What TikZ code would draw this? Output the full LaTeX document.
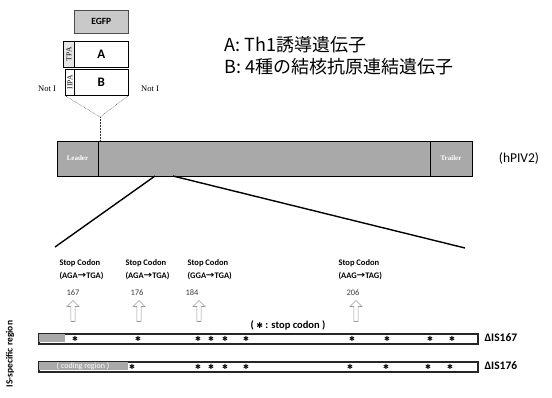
\documentclass[tikz,border=0pt]{standalone}
\usepackage{fontspec}
\setmainfont{Carlito}
\newfontfamily\jp{Noto Sans CJK JP}
\newfontfamily\serifx{Liberation Serif}
\newfontfamily\dejavu{DejaVu Sans}
\usetikzlibrary{shapes.arrows}
\definecolor{bargray}{HTML}{A9A9A9}
\definecolor{lightgray2}{HTML}{C9C9C9}
\definecolor{arrowgray}{HTML}{9A9A9A}
\tikzset{
  box/.style={draw=black, line width=0.6pt, fill=white, anchor=north west, inner sep=0pt},
  smallbox/.style={draw=black, line width=0.6pt, fill=white, anchor=north west, inner sep=0pt},
  codon/.style={font=\bfseries\fontsize{8.5}{13}\selectfont, align=left, anchor=west},
  num/.style={font=\fontsize{8.5}{9}\selectfont, text=black!75},
  uparrow/.style={single arrow, draw=arrowgray, line width=0.6pt, fill=white, shape border rotate=90,
     minimum height=21pt, minimum width=12pt, single arrow head extend=1.5pt, single arrow head indent=0pt, inner sep=0.5pt},
  zoomline/.style={line width=1.4pt, black},
  dotline/.style={densely dotted, line width=0.5pt, black!80},
  star/.style={font=\dejavu\fontsize{7}{7}\selectfont, inner sep=0pt},
  row/.style={draw=black!85, line width=1.6pt},
  dlabel/.style={font=\bfseries\fontsize{11.5}{12}\selectfont, anchor=west},
}
\begin{document}
\begin{tikzpicture}[x=1pt,y=-1pt]
\useasboundingbox (0,0) rectangle (552,397);

% construct boxes
\node[box, fill=lightgray2, draw=black!70, minimum width=54pt, minimum height=23pt, font=\bfseries\fontsize{9.5}{10}\selectfont] (egfp) at (74,10) {EGFP};
\node[box, minimum width=54pt, minimum height=26pt, font=\fontsize{13}{13}\selectfont\bfseries] (a) at (74,41) {A};
\node[smallbox, fill=black!10, minimum width=11pt, minimum height=26pt] (tpa) at (63,41) {};
\node[rotate=90, font=\serifx\fontsize{7.5}{7.5}\selectfont, inner sep=0pt] (tpat) at (tpa.center) {TPA};
\node[box, minimum width=54pt, minimum height=26pt, font=\fontsize{13}{13}\selectfont\bfseries] (b) at (74,69) {B};
\node[smallbox, minimum width=9pt, minimum height=26pt] (iipa) at (65,69) {};
\node[rotate=90, font=\serifx\fontsize{7.5}{7.5}\selectfont, inner sep=0pt] (iipat) at (iipa.center) {IIPA};
\node[font=\serifx\fontsize{8.5}{8.5}\selectfont] (not1) at (47,89) {Not I};
\node[font=\serifx\fontsize{8.5}{8.5}\selectfont] (not2) at (150,89) {Not I};

% legend
\node[anchor=west, font=\jp\fontsize{18}{19}\selectfont] (la) at (221,45) {A: Th1誘導遺伝子};
\node[anchor=west, font=\jp\fontsize{18}{19}\selectfont] (lb) at (221,67) {B: 4種の結核抗原連結遺伝子};

% genome bar
\node[box, fill=bargray, minimum width=415pt, minimum height=35pt] (bar) at (57,141) {};
\coordinate (ldiv) at (98,141);
\coordinate (tdiv) at (430,141);
\draw[line width=0.8pt] (ldiv) -- ++(0,35);
\draw[line width=0.8pt] (tdiv) -- ++(0,35);
\node[text=white, font=\serifx\bfseries\fontsize{7}{7}\selectfont] (leader) at (77.5,158.5) {Leader};
\node[text=white, font=\serifx\bfseries\fontsize{7}{7}\selectfont] (trailer) at (451,158.5) {Trailer};
\node[font=\fontsize{13.5}{14}\selectfont] (hpiv) at (519,158) {(hPIV2)};

% insertion dotted lines
\coordinate (ins) at (100,117);
\coordinate (instop) at (100,141);
\draw[dotline] (iipa.south west) -- (ins) -- (b.south east);
\draw[dotline] (ins) -- (instop);

% zoom lines
\coordinate (z1) at (155,176);
\coordinate (z2) at (173,176);
\coordinate (e1) at (55,247);
\coordinate (e2) at (465,248);
\draw[zoomline] (z1) -- (e1);
\draw[zoomline] (z2) -- (e2);

% stop codon labels
\node[codon] (c1) at (56,270) {Stop Codon\\(AGA{\jp →}TGA)};
\node[codon] (c2) at (122,270) {Stop Codon\\(AGA{\jp →}TGA)};
\node[codon] (c3) at (184,270) {Stop Codon\\(GGA{\jp →}TGA)};
\node[codon] (c4) at (335,270) {Stop Codon\\(AAG{\jp →}TAG)};

\node[num] (n1) at (73,293) {167};
\node[num] (n2) at (137,293) {176};
\node[num] (n3) at (192,293) {184};
\node[num] (n4) at (353,293) {206};

\node[uparrow] (a1) at (73,312) {};
\node[uparrow] (a2) at (139,312) {};
\node[uparrow] (a3) at (199,312) {};
\node[uparrow] (a4) at (356,312) {};

\node[font=\bfseries\fontsize{10.5}{11}\selectfont] (legend) at (288,325) {( {\dejavu\fontsize{8}{8}\selectfont ✱} : stop codon )};

% rows
\node[box, row, minimum width=439pt, minimum height=10pt] (r1) at (38,333) {};
\fill[bargray] (38.8,333.8) rectangle (65,342.2);
\node[box, row, minimum width=439pt, minimum height=10pt] (r2) at (38,361) {};
\fill[bargray] (38.8,361.8) rectangle (128,370.2);
\node[text=white, font=\fontsize{8}{8}\selectfont, inner sep=0pt] (coding) at (83,366) {( coding region )};

\foreach \x [count=\i] in {75,138,198,211,225,246,352,387,430,452}
  \node[star] (s1-\i) at (\x,338.5) {✱};
\foreach \x [count=\i] in {132,198,211,225,246,350,386,428,450}
  \node[star] (s2-\i) at (\x,366.5) {✱};

\node[dlabel] (d1) at (481,338) {ΔIS167};
\node[dlabel] (d2) at (481,366) {ΔIS176};

\node[rotate=90, font=\bfseries\fontsize{9.5}{10}\selectfont] (isr) at (10,354) {IS-specific region};
\end{tikzpicture}
\end{document}
